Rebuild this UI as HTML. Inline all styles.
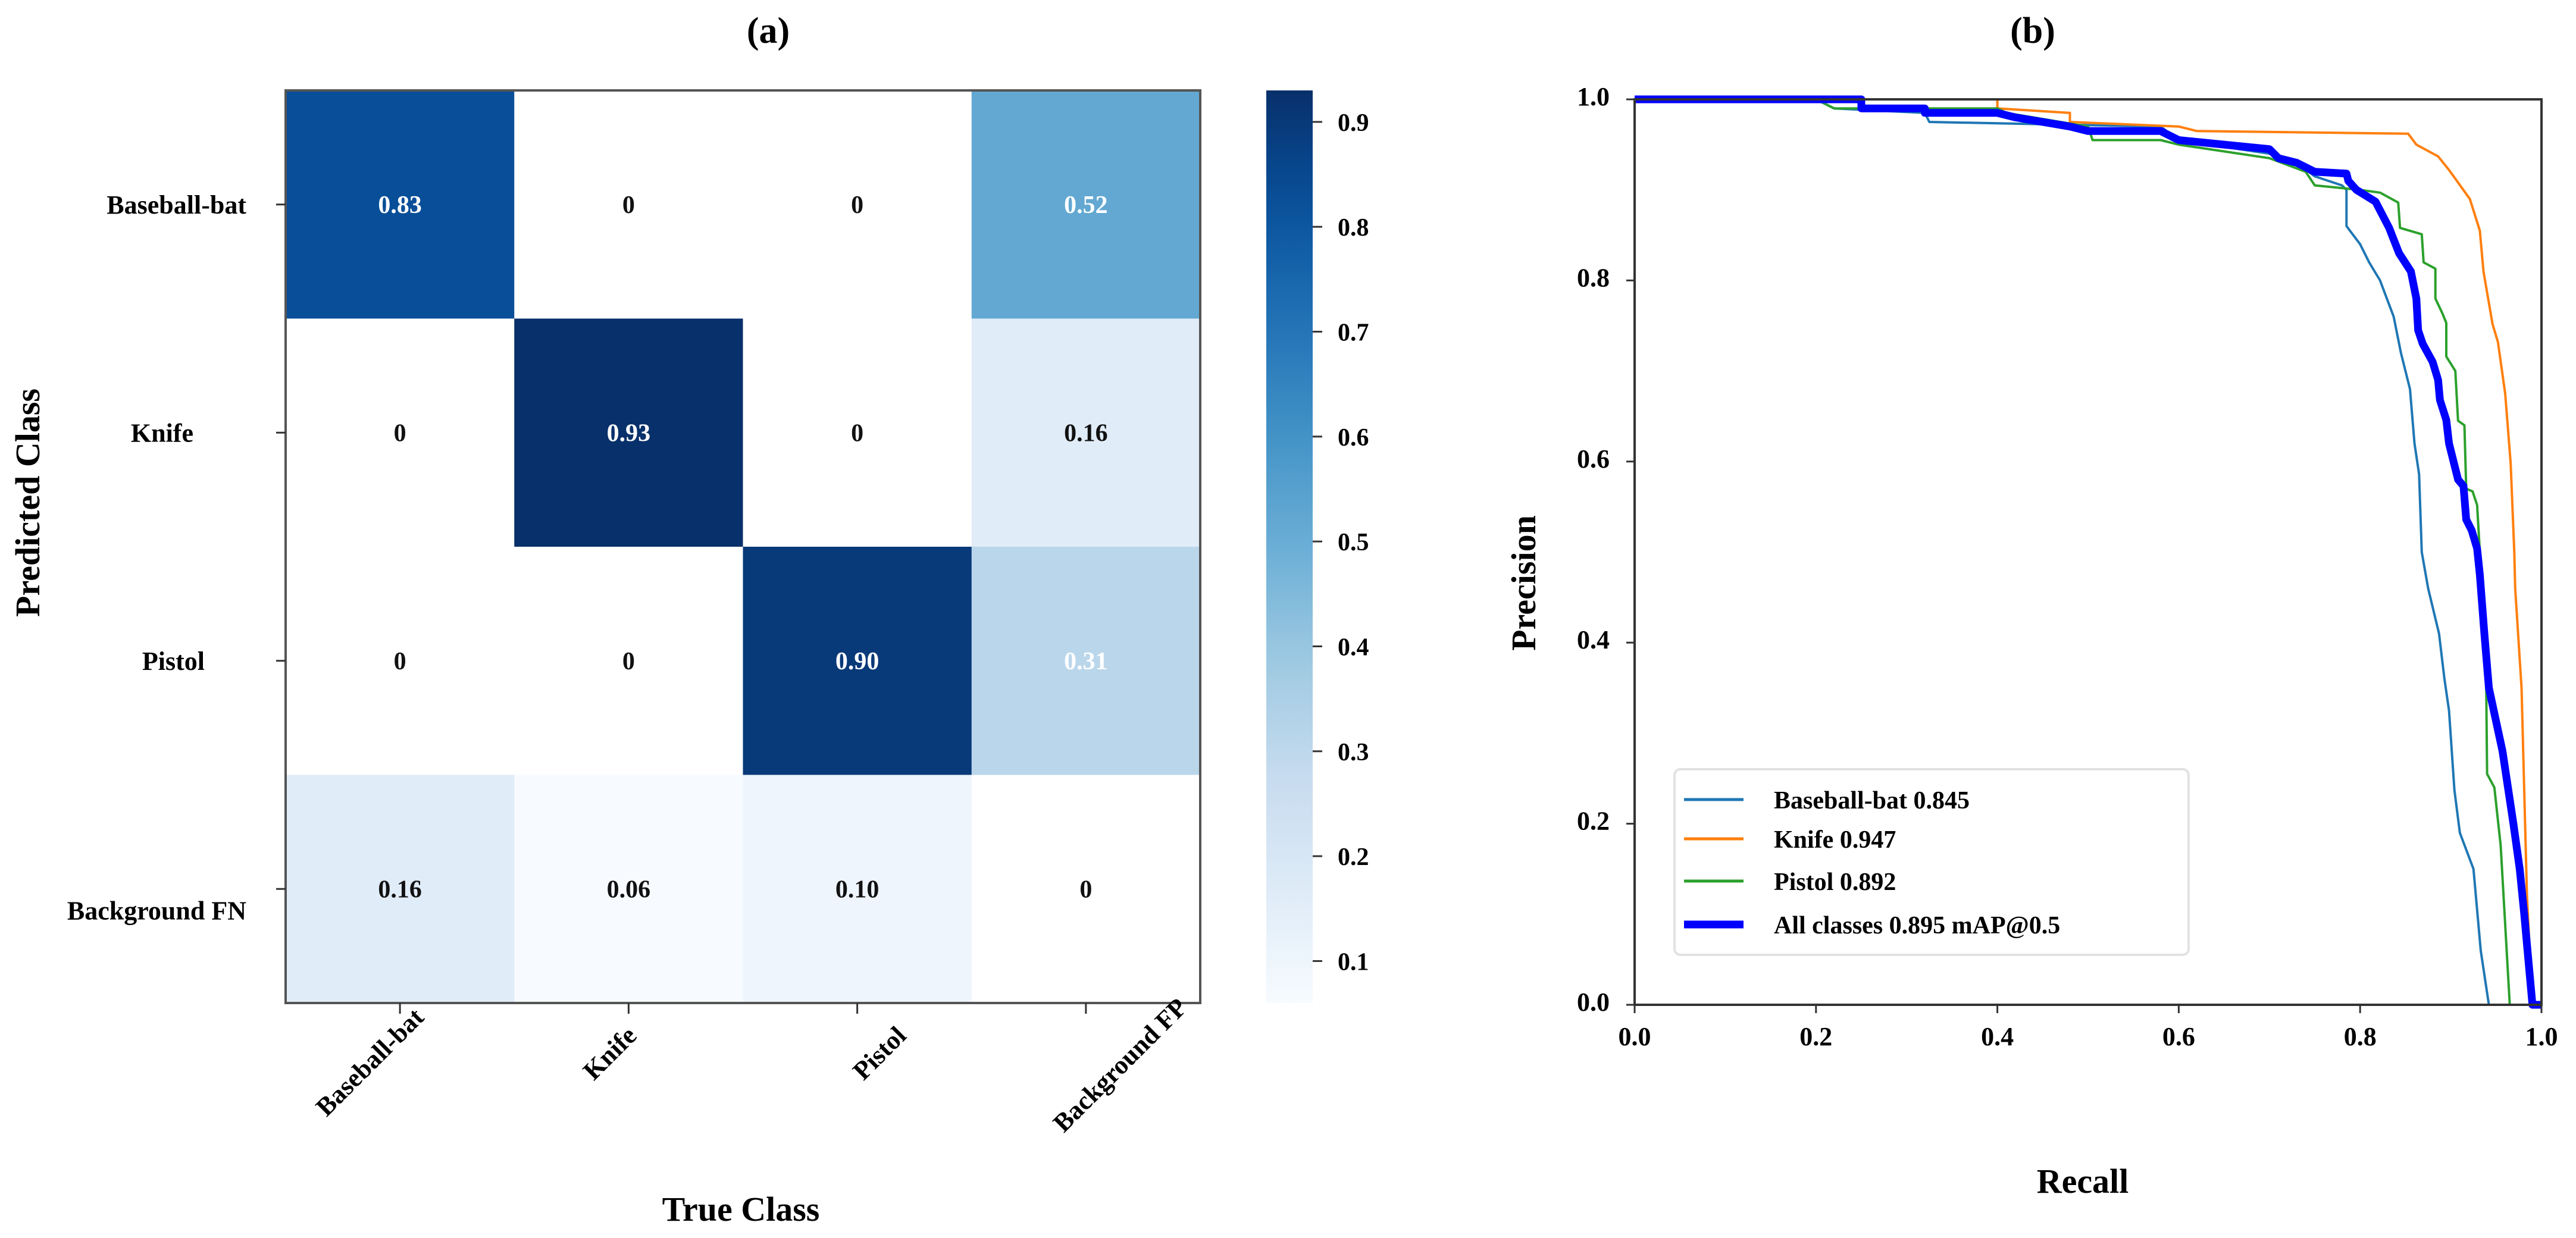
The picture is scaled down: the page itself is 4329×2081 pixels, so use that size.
<!DOCTYPE html>
<html><head><meta charset="utf-8"><style>
html,body{margin:0;padding:0;background:#fff;}
svg{display:block;font-family:"Liberation Serif",serif;font-weight:bold;}
</style></head><body>
<svg id="fig" width="4329" height="2081" viewBox="0 0 4329 2081" xmlns="http://www.w3.org/2000/svg">
<g id="pa"></g>
<g id="pb"></g>
</svg>
<script>
// ---- Panel (a) data ----
const trueClasses = ["Baseball-bat","Knife","Pistol","Background FP"];
const predClasses = ["Baseball-bat","Knife","Pistol","Background FN"];
const cmRow0 = [0.83,0,0,0.52];
const cmRow1 = [0,0.93,0,0.16];
const cmRow2 = [0,0,0.90,0.31];
const cmRow3 = [0.16,0.06,0.10,0];
const cbTicks = [0.1,0.2,0.3,0.4,0.5,0.6,0.7,0.8,0.9];
// ---- Panel (b) data ----
const xTicks = [0.0,0.2,0.4,0.6,0.8,1.0];
const yTicks = [0.0,0.2,0.4,0.6,0.8,1.0];
const batR = [0,0.2,0.22,0.32,0.325,0.58,0.6,0.7,0.73,0.75,0.78,0.785,0.785,0.80,0.81,0.822,0.837,0.845,0.855,0.86,0.865,0.868,0.875,0.887,0.893,0.898,0.904,0.91,0.925,0.933,0.942,1.0];
const batP = [1,1,0.99,0.985,0.975,0.97,0.955,0.94,0.93,0.915,0.905,0.90,0.86,0.84,0.82,0.80,0.76,0.72,0.68,0.62,0.586,0.5,0.46,0.41,0.36,0.325,0.237,0.19,0.15,0.06,0,0];
const knifeR = [0,0.40,0.40,0.48,0.48,0.60,0.62,0.853,0.862,0.886,0.898,0.921,0.932,0.936,0.946,0.952,0.96,0.966,0.97,0.971,0.978,0.984,0.99,1.0];
const knifeP = [1,1,0.99,0.985,0.975,0.97,0.965,0.962,0.95,0.937,0.922,0.89,0.855,0.81,0.752,0.732,0.675,0.598,0.50,0.46,0.35,0.12,0,0];
const pistolR = [0,0.2,0.22,0.40,0.41,0.50,0.505,0.58,0.6,0.7,0.74,0.75,0.80,0.822,0.842,0.844,0.868,0.870,0.883,0.883,0.891,0.895,0.895,0.905,0.908,0.915,0.917,0.924,0.929,0.935,0.939,0.94,0.948,0.955,0.965,1.0];
const pistolP = [1,1,0.99,0.99,0.985,0.97,0.955,0.955,0.95,0.935,0.92,0.905,0.90,0.897,0.886,0.858,0.851,0.82,0.813,0.78,0.763,0.753,0.716,0.70,0.645,0.64,0.57,0.567,0.552,0.45,0.36,0.255,0.24,0.176,0,0];
const allR = [0,0.25,0.25,0.32,0.32,0.40,0.42,0.45,0.48,0.50,0.58,0.60,0.65,0.70,0.71,0.73,0.75,0.785,0.787,0.796,0.817,0.832,0.843,0.856,0.862,0.864,0.869,0.88,0.886,0.888,0.895,0.898,0.903,0.908,0.914,0.917,0.923,0.929,0.932,0.937,0.942,0.957,0.969,0.976,0.981,0.99,1.0];
const allP = [1,1,0.99,0.99,0.985,0.985,0.98,0.975,0.97,0.965,0.965,0.955,0.95,0.945,0.935,0.93,0.92,0.918,0.91,0.90,0.887,0.858,0.83,0.81,0.78,0.745,0.73,0.71,0.69,0.668,0.646,0.62,0.60,0.58,0.573,0.536,0.524,0.504,0.475,0.41,0.35,0.28,0.2,0.15,0.1,0,0];
const seriesNames = ["Baseball-bat 0.845","Knife 0.947","Pistol 0.892","All classes 0.895 mAP@0.5"];

const NS="http://www.w3.org/2000/svg";
function mk(parent,tag,attrs,text){const e=document.createElementNS(NS,tag);for(const k in attrs)e.setAttribute(k,attrs[k]);if(text!==undefined)e.textContent=text;parent.appendChild(e);return e;}
const pa=document.getElementById('pa'), pb=document.getElementById('pb');

// ---------- Panel A ----------
const HX0=480,HX1=2017,HY0=152,HY1=1686;
const cw=(HX1-HX0)/4, ch=(HY1-HY0)/4;
const vmin=0.06,vmax=0.93;
const stops=["#f7fbff","#deebf7","#c6dbef","#9ecae1","#6baed6","#4292c6","#2171b5","#08519c","#08306b"];
function hx(c){return [parseInt(c.substr(1,2),16),parseInt(c.substr(3,2),16),parseInt(c.substr(5,2),16)];}
function blues(v){let t=(v-vmin)/(vmax-vmin);t=Math.max(0,Math.min(1,t));const p=t*8,i=Math.min(7,Math.floor(p)),f=p-i;const a=hx(stops[i]),b=hx(stops[i+1]);return "rgb("+a.map((x,k)=>Math.round(x+(b[k]-x)*f)).join(",")+")";}
const colX=i=>HX0+cw*(i+0.5), rowY=i=>HY0+ch*(i+0.5);
const cm=[cmRow0,cmRow1,cmRow2,cmRow3];
let t=mk(pa,'text',{x:1291,y:72,'font-size':62,'text-anchor':'middle'},'(a)');


cm.forEach((row,r)=>row.forEach((v,c)=>{
  const rc=mk(pa,'rect',{x:HX0+cw*c,y:HY0+ch*r,width:cw+0.5,height:ch+0.5,fill:v===0?'#ffffff':blues(v)});
  
  
  const tx=mk(pa,'text',{x:colX(c),y:rowY(r)+14,'font-size':42,'text-anchor':'middle',fill:v>0.3?'#ffffff':'#111'},v===0?'0':v.toFixed(2));
  
  
}));
let fr=mk(pa,'rect',{x:HX0,y:HY0,width:HX1-HX0,height:HY1-HY0,fill:'none',stroke:'#555',"stroke-width":4});


const yLabRight=[414,325,344,414], yLabDy=[0,0,0,36];
predClasses.forEach((n,i)=>{
  mk(pa,'line',{x1:HX0-16,x2:HX0,y1:rowY(i),y2:rowY(i),stroke:'#333','stroke-width':3});
  const e=mk(pa,'text',{x:yLabRight[i],y:rowY(i)+15+yLabDy[i],'font-size':44,'text-anchor':'end'},n);
  
  
});
const xLabDx=[-51,-32,37,57], xLabCy=[1785,1770,1770,1790];
trueClasses.forEach((n,i)=>{
  mk(pa,'line',{x1:colX(i),x2:colX(i),y1:HY1,y2:HY1+18,stroke:'#333','stroke-width':3});
  const cx=colX(i)+xLabDx[i], cy=xLabCy[i];
  const e=mk(pa,'text',{x:cx,y:cy+15,'font-size':44,'text-anchor':'middle',transform:'rotate(-45 '+cx+' '+cy+')'},n);
  
  
});
t=mk(pa,'text',{x:1245,y:2052,'font-size':58,'text-anchor':'middle'},'True Class');


t=mk(pa,'text',{x:66,y:845,'font-size':58,'text-anchor':'middle',transform:'rotate(-90 66 845)'},'Predicted Class');


// colorbar
const CBX0=2128,CBX1=2206;
const defs=mk(document.getElementById('fig'),'defs',{});
const lg=mk(defs,'linearGradient',{id:'cbg',x1:0,y1:1,x2:0,y2:0});
for(let k=0;k<=20;k++){const v=vmin+(vmax-vmin)*k/20;mk(lg,'stop',{offset:(k/20),'stop-color':blues(v)});}
let cb=mk(pa,'rect',{x:CBX0,y:HY0,width:CBX1-CBX0,height:HY1-HY0,fill:'url(#cbg)'});


const cbY=v=>HY0+(vmax-v)/(vmax-vmin)*(HY1-HY0);
cbTicks.forEach(v=>{
  mk(pa,'line',{x1:CBX1,x2:CBX1+16,y1:cbY(v),y2:cbY(v),stroke:'#333','stroke-width':3});
  const e=mk(pa,'text',{x:2248,y:cbY(v)+15,'font-size':42},v.toFixed(1));
  
  
});

// ---------- Panel B ----------
const AX0=2747,AX1=4271,AY0=167,AY1=1689;
const sx=r=>AX0+r*(AX1-AX0), sy=p=>AY1-p*(AY1-AY0);
t=mk(pb,'text',{x:3416,y:72,'font-size':62,'text-anchor':'middle'},'(b)');


const colors=["#1f77b4","#ff7f0e","#2ca02c","#0000ff"];
const widths=[4,4,4,13];
const Rs=[batR,knifeR,pistolR,allR], Ps=[batP,knifeP,pistolP,allP];
const snames=['baseball-bat-curve','knife-curve','pistol-curve','all-classes-curve'];
Rs.forEach((R,k)=>{
  const pts=R.map((r,i)=>sx(r).toFixed(1)+","+sy(Ps[k][i]).toFixed(1)).join(" ");
  const pl=mk(pb,'polyline',{points:pts,fill:'none',stroke:colors[k],'stroke-width':widths[k],'stroke-linejoin':'round'});
  
  
});
let ax=mk(pb,'rect',{x:AX0,y:AY0,width:AX1-AX0,height:AY1-AY0,fill:'none',stroke:'#333','stroke-width':4});


xTicks.forEach(v=>{
  mk(pb,'line',{x1:sx(v),x2:sx(v),y1:AY1,y2:AY1+14,stroke:'#333','stroke-width':3});
  const e=mk(pb,'text',{x:sx(v),y:1757,'font-size':44,'text-anchor':'middle'},v.toFixed(1));
  
  
});
yTicks.forEach(v=>{
  mk(pb,'line',{x1:AX0-14,x2:AX0,y1:sy(v),y2:sy(v),stroke:'#333','stroke-width':3});
  const e=mk(pb,'text',{x:2705,y:sy(v)+10,'font-size':44,'text-anchor':'end'},v.toFixed(1));
  
  
});
t=mk(pb,'text',{x:3500,y:2005,'font-size':58,'text-anchor':'middle'},'Recall');


t=mk(pb,'text',{x:2580,y:980,'font-size':58,'text-anchor':'middle',transform:'rotate(-90 2580 980)'},'Precision');


// legend
const leg=mk(pb,'g',{});


mk(leg,'rect',{x:2814,y:1293,width:864,height:312,rx:10,fill:'#fff','fill-opacity':0.9,stroke:'#e2e2e2','stroke-width':4});
const legY=[1344,1410,1481,1554];
seriesNames.forEach((n,k)=>{
  const l=mk(leg,'line',{x1:2830,x2:2930,y1:legY[k],y2:legY[k],stroke:colors[k],'stroke-width':widths[k]+(k<3?1:0)});
  
  
  const e=mk(leg,'text',{x:2981,y:legY[k]+15,'font-size':42},n);
  
  
});
</script>
</body></html>
